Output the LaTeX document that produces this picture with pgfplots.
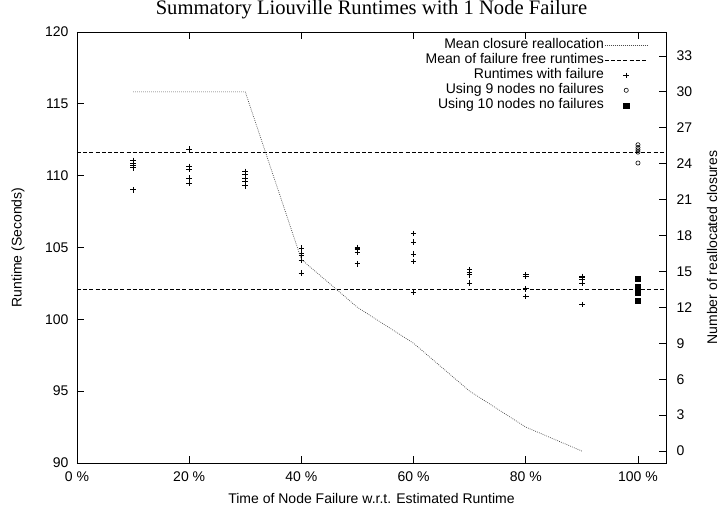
\documentclass[border=0pt]{standalone}
\usepackage{pgfplots}
\pgfplotsset{compat=1.18}
\usepackage{fontspec}
\setmainfont{Liberation Sans}
\newfontfamily\titlefont{Liberation Serif}

\begin{document}
\begin{tikzpicture}[x=1pt,y=1pt]
\pgfplotsset{
  every axis/.append style={
    scale only axis, width=589pt, height=431pt,
    xmin=0, xmax=105,
    font=\fontsize{14}{16}\selectfont,
    /pgf/number format/assume math mode=true,
    axis line style={line width=0.8pt},
    tick style={black, line width=0.8pt},
    major tick length=6.7pt,
    tick align=inside,
  },
  meanline/.style={black, line width=0.8pt, dash pattern=on 4pt off 2.2pt},
  closline/.style={gray!60!black, line width=0.7pt, dash pattern=on 0.8pt off 1.2pt},
}
\begin{axis}[
  ymin=90, ymax=120, ytick={90,95,...,120},
  xtick={0,20,...,100},
  xticklabels={0 \%,20 \%,40 \%,60 \%,80 \%,100 \%},
  xtick pos=both, ytick pos=left,
  yticklabel style={xshift=-5pt},
  xticklabel style={yshift=-5pt},
  xlabel={Time of Node Failure w.r.t. Estimated Runtime},
  ylabel={Runtime (Seconds)},
  every axis x label/.style={at={(axis description cs:0.5,0)}, anchor=center, yshift=-35pt},
  every axis y label/.style={at={(axis description cs:0,0.5)}, xshift=-59pt, rotate=90, anchor=center},
  every axis title shift=0pt,
  title={\titlefont\fontsize{20.6}{24}\selectfont Summatory Liouville Runtimes with 1 Node Failure},
  title style={at={(axis description cs:0.5,1)}, anchor=base, yshift=17pt},
  legend style={draw=none, fill=none, at={(axis description cs:0.97,0.987)}, anchor=north east,
    inner sep=0pt, row sep=0pt,
    nodes={inner sep=0.5pt, text height=10.5pt, text depth=3.5pt}},
  legend plot pos=right,
  legend cell align=right,
  /tikz/every even column/.append style={column sep=7pt},
  legend image code/.code={\draw[mark repeat=2,mark phase=2,#1] plot coordinates {(0pt,0pt)(21.5pt,0pt)(43pt,0pt)};},
]
\addlegendimage{closline}
\addlegendentry{Mean closure reallocation}

\addplot[meanline] coordinates {(0,111.62) (105,111.62)};
\addlegendentry{Mean of failure free runtimes}
\addplot[meanline, forget plot] coordinates {(0,102.11) (105,102.11)};

\addplot[only marks, mark=+, mark size=2.8pt, black, line width=0.7pt] coordinates {
  (10,111.06) (10,110.88) (10,110.69) (10,110.55) (10,109.02)
  (20,111.85) (20,110.64) (20,110.46) (20,109.83) (20,109.49)
  (30,110.29) (30,110.06) (30,109.83) (30,109.60) (30,109.30)
  (40,104.96) (40,104.61) (40,104.42) (40,104.14) (40,103.22)
  (50,105.00) (50,104.95) (50,104.90) (50,104.66) (50,103.87)
  (60,105.98) (60,105.38) (60,104.54) (60,104.03) (60,101.87)
  (70,103.45) (70,103.30) (70,103.29) (70,103.10) (70,102.53)
  (80,103.10) (80,103.00) (80,102.99) (80,102.13) (80,101.59)
  (90,102.99) (90,102.90) (90,102.76) (90,102.53) (90,101.02)
};
\addlegendentry{Runtimes with failure}

\addplot[only marks, mark=o, mark size=2.1pt, black, line width=0.6pt] coordinates {
  (100,112.15) (100,111.96) (100,111.80) (100,111.64) (100,110.88)
};
\addlegendentry{Using 9 nodes no failures}

\addplot[only marks, mark=square*, mark size=2.6pt, black] coordinates {
  (100,102.81) (100,102.28) (100,102.05) (100,101.84) (100,101.29)
};
\addlegendentry{Using 10 nodes no failures}
\end{axis}

\begin{axis}[
  ymin=-1, ymax=35, ytick={0,3,...,33},
  axis x line=none, axis y line*=right,
  yticklabel style={xshift=7pt},
  ylabel={Number of reallocated closures},
  every axis y label/.style={at={(axis description cs:1,0.5)}, xshift=46pt, rotate=90, anchor=center},
]
\addplot[closline] coordinates {
  (10,30) (20,30) (30,30) (40,16) (50,12) (60,9) (70,5) (80,2) (90,0)
};
\end{axis}
\pgfresetboundingbox
\path[use as bounding box] (-77,-49) rectangle (647,463);
\end{tikzpicture}
\end{document}
